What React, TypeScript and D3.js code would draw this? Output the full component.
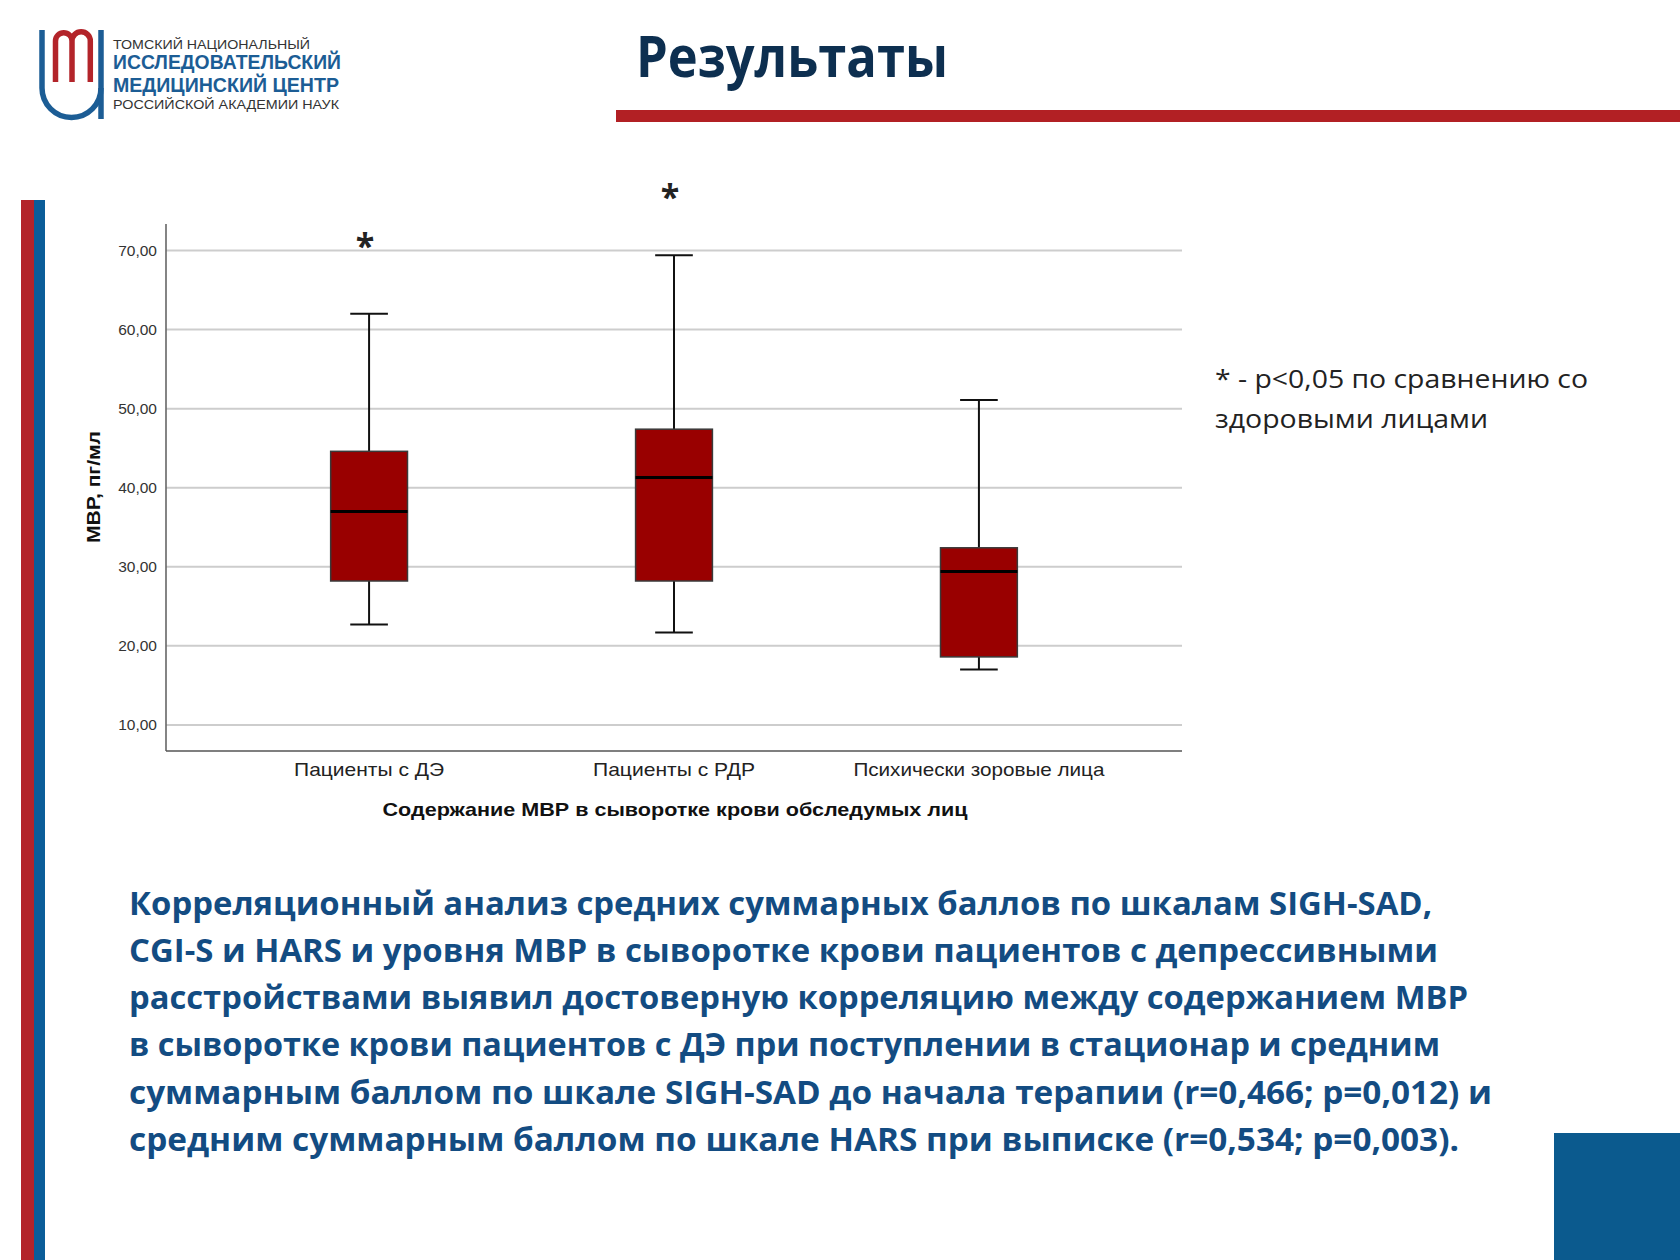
import React from "react";
import * as d3 from "d3";

// ---------- DATA ----------
const categories = ["Пациенты с ДЭ", "Пациенты с РДР", "Психически зоровые лица"];
const whiskerLow = [22.7, 21.7, 17.0];
const q1 = [28.2, 28.2, 18.6];
const median = [37.0, 41.3, 29.4];
const q3 = [44.6, 47.4, 32.4];
const whiskerHigh = [62.0, 69.4, 51.1];
const starValue: (number | null)[] = [71.5, 77.6, null];
const yTicks = [10, 20, 30, 40, 50, 60, 70];

const yTitle = "МВР, пг/мл";
const xTitle = "Содержание МВР в сыворотке крови обследумых лиц";
const slideTitle = "Результаты";
const logoLines = [
  "ТОМСКИЙ НАЦИОНАЛЬНЫЙ",
  "ИССЛЕДОВАТЕЛЬСКИЙ",
  "МЕДИЦИНСКИЙ ЦЕНТР",
  "РОССИЙСКОЙ АКАДЕМИИ НАУК",
];
const noteLines = ["* - p<0,05 по сравнению со", "здоровыми лицами"];
const paragraphLines = [
  "Корреляционный анализ средних суммарных баллов по шкалам SIGH-SAD,",
  "CGI-S и HARS и уровня МВР в сыворотке крови пациентов с депрессивными",
  "расстройствами выявил достоверную корреляцию между содержанием МВР",
  "в сыворотке крови пациентов с ДЭ при поступлении в стационар и средним",
  "суммарным баллом по шкале SIGH-SAD до начала терапии (r=0,466; p=0,012) и",
  "средним суммарным баллом по шкале HARS при выписке (r=0,534; p=0,003).",
];

// ---------- LAYOUT ----------
const W = 1680;
const H = 1260;
const plot = { left: 166, right: 1182, top: 224, bottom: 751 };
const catLabelWidths = [150, 162, 251];
const paragraphEnds = [1432, 1438, 1468, 1440, 1492, 1459];
const paragraphX = 129;
const paragraphBase = 914.5;
const paragraphStep = 47.3;
const logoStyle = [
  { y: 48.5, size: 13.5, weight: 400, color: "#333", w: 197 },
  { y: 69, size: 21, weight: 700, color: "#1c5d95", w: 228 },
  { y: 91.5, size: 21, weight: 700, color: "#1c5d95", w: 226 },
  { y: 108.5, size: 13.5, weight: 400, color: "#333", w: 226 },
];

const CHART_FONT = "'Liberation Sans', Arial, sans-serif";
const SLIDE_FONT = "'Open Sans', 'Noto Sans', sans-serif";

export default function App() {
  const y = d3.scaleLinear().domain([6.7, 73.35]).range([plot.bottom, plot.top]);
  const x = d3
    .scaleBand<string>()
    .domain(categories)
    .range([plot.left, plot.right])
    .paddingInner(0.748)
    .paddingOuter(0.54);
  const bw = x.bandwidth();
  const capW = bw * 0.49;
  const fmt = (v: number) => d3.format(".2f")(v).replace(".", ",");

  return (
    <svg
      width={W}
      height={H}
      viewBox={`0 0 ${W} ${H}`}
      style={{ position: "absolute", left: 0, top: 0, background: "#fff" }}
    >
      <rect x={0} y={0} width={W} height={H} fill="#fff" />

      {/* ---- logo ---- */}
      <g fill="none" strokeLinecap="butt">
        <path d="M42,30 V88 A29.5,29.5 0 0 0 101,88 V30" stroke="#1c5d95" strokeWidth={5.5} />
        <path d="M101,88 V119" stroke="#1c5d95" strokeWidth={5.5} />
        <path
          d="M55.5,82 V41 A8.25,8.25 0 0 1 72,41 V82 M72,41 A9.15,9.15 0 0 1 90.3,41 V82"
          stroke="#b3242a"
          strokeWidth={5.5}
        />
      </g>
      {logoLines.map((t, i) => (
        <text
          key={t}
          x={113}
          y={logoStyle[i].y}
          fontFamily={CHART_FONT}
          fontSize={logoStyle[i].size}
          fontWeight={logoStyle[i].weight}
          fill={logoStyle[i].color}
          textLength={logoStyle[i].w}
          lengthAdjust="spacingAndGlyphs"
        >
          {t}
        </text>
      ))}

      {/* ---- title ---- */}
      <text
        x={636}
        y={77}
        fontFamily={SLIDE_FONT}
        fontSize={57}
        fontWeight={700}
        fill="#0d2f50"
        textLength={312}
        lengthAdjust="spacingAndGlyphs"
      >
        {slideTitle}
      </text>
      <rect x={616} y={110} width={W - 616} height={12} fill="#b22024" />

      {/* ---- side stripes and corner ---- */}
      <rect x={21} y={200} width={13} height={H - 200} fill="#b3242a" />
      <rect x={34} y={200} width={11} height={H - 200} fill="#0b5d99" />
      <rect x={1554} y={1133} width={W - 1554} height={H - 1133} fill="#0b5a8e" />

      {/* ---- chart ---- */}
      <g>
        {yTicks.map((t) => (
          <line
            key={"g" + t}
            x1={plot.left}
            x2={plot.right}
            y1={y(t)}
            y2={y(t)}
            stroke="#cdcdcd"
            strokeWidth={2}
          />
        ))}
        {yTicks.map((t) => (
          <text
            key={"t" + t}
            x={157}
            y={y(t) + 5.5}
            textAnchor="end"
            fontFamily={CHART_FONT}
            fontSize={15.5}
            fill="#333"
          >
            {fmt(t)}
          </text>
        ))}
        <line x1={plot.left} x2={plot.left} y1={plot.top} y2={plot.bottom} stroke="#666" strokeWidth={1.6} />
        <line x1={plot.left} x2={plot.right} y1={plot.bottom} y2={plot.bottom} stroke="#555" strokeWidth={1.6} />

        {categories.map((c, i) => {
          const cx = (x(c) as number) + bw / 2;
          return (
            <g key={c}>
              <line x1={cx} x2={cx} y1={y(whiskerHigh[i])} y2={y(q3[i])} stroke="#111" strokeWidth={2} />
              <line x1={cx} x2={cx} y1={y(q1[i])} y2={y(whiskerLow[i])} stroke="#111" strokeWidth={2} />
              <line
                x1={cx - capW / 2}
                x2={cx + capW / 2}
                y1={y(whiskerHigh[i])}
                y2={y(whiskerHigh[i])}
                stroke="#111"
                strokeWidth={2}
              />
              <line
                x1={cx - capW / 2}
                x2={cx + capW / 2}
                y1={y(whiskerLow[i])}
                y2={y(whiskerLow[i])}
                stroke="#111"
                strokeWidth={2}
              />
              <rect
                x={x(c)}
                y={y(q3[i])}
                width={bw}
                height={y(q1[i]) - y(q3[i])}
                fill="#990000"
                stroke="#3a3a3a"
                strokeWidth={1.5}
              />
              <line
                x1={x(c)}
                x2={(x(c) as number) + bw}
                y1={y(median[i])}
                y2={y(median[i])}
                stroke="#000"
                strokeWidth={3}
              />
              {starValue[i] !== null && (
                <text
                  x={cx - 4}
                  y={y(starValue[i] as number) + 19}
                  textAnchor="middle"
                  fontFamily={SLIDE_FONT}
                  fontWeight={700}
                  fontSize={34}
                  fill="#222"
                >
                  *
                </text>
              )}
              <text
                x={cx}
                y={776}
                textAnchor="middle"
                fontFamily={CHART_FONT}
                fontSize={19}
                fill="#222"
                textLength={catLabelWidths[i]}
                lengthAdjust="spacingAndGlyphs"
              >
                {c}
              </text>
            </g>
          );
        })}

        <text
          x={675}
          y={816}
          textAnchor="middle"
          fontFamily={CHART_FONT}
          fontSize={19}
          fontWeight={700}
          fill="#111"
          textLength={585}
          lengthAdjust="spacingAndGlyphs"
        >
          {xTitle}
        </text>
        <text
          transform={`translate(100,487) rotate(-90)`}
          textAnchor="middle"
          fontFamily={CHART_FONT}
          fontSize={19}
          fontWeight={700}
          fill="#111"
          textLength={112}
          lengthAdjust="spacingAndGlyphs"
        >
          {yTitle}
        </text>
      </g>

      {/* ---- note ---- */}
      {noteLines.map((t, i) => (
        <text
          key={t}
          x={1215}
          y={388 + i * 39.5}
          fontFamily={SLIDE_FONT}
          fontSize={26}
          fill="#222"
          textLength={i === 0 ? 373 : 273}
          lengthAdjust="spacingAndGlyphs"
        >
          {t}
        </text>
      ))}

      {/* ---- paragraph ---- */}
      {paragraphLines.map((t, i) => (
        <text
          key={t}
          x={paragraphX}
          y={paragraphBase + i * paragraphStep}
          fontFamily={SLIDE_FONT}
          fontSize={32}
          fontWeight={700}
          fill="#134c82"
          textLength={paragraphEnds[i] - paragraphX}
          lengthAdjust="spacingAndGlyphs"
        >
          {t}
        </text>
      ))}
    </svg>
  );
}
